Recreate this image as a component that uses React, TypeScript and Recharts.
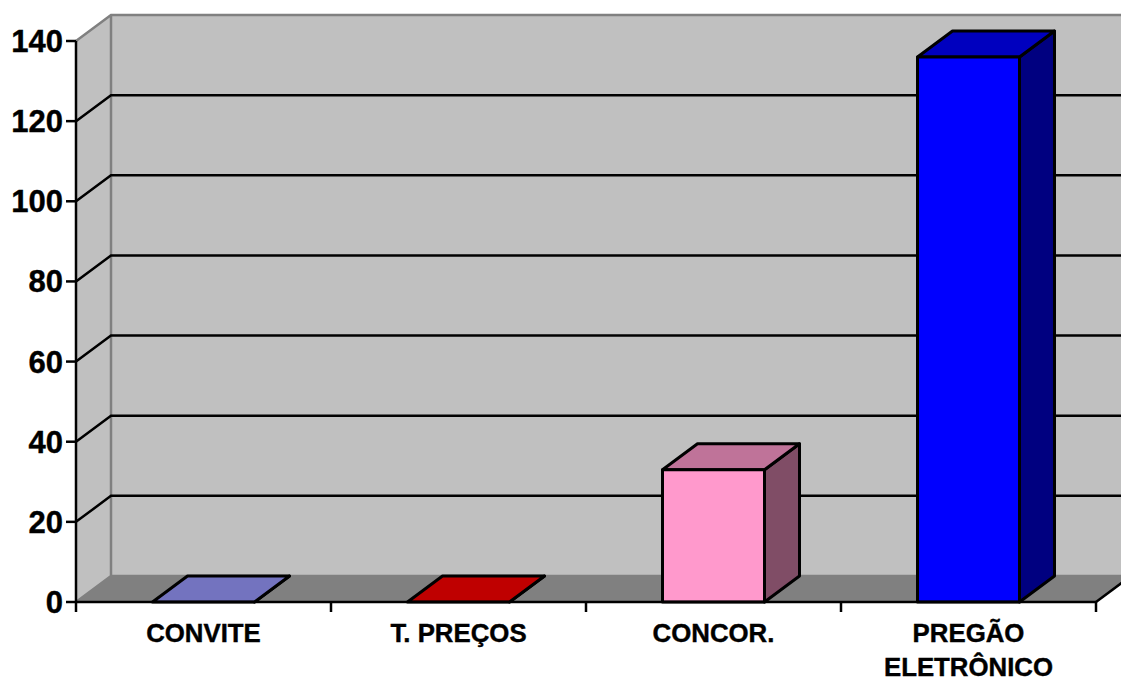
import React from 'react';
import { BarChart, Bar, XAxis, YAxis, CartesianGrid } from 'recharts';

const categories = ['CONVITE', 'T. PREÇOS', 'CONCOR.', 'PREGÃO\nELETRÔNICO'];
const values = [0, 0, 33, 136];
const faceColors = ['#9999FF', '#FF0000', '#FF99CC', '#0000FF'];
const topColors = ['#7373BF', '#BF0000', '#BF7399', '#0000BF'];
const sideColors = ['#4D4D80', '#800000', '#804D66', '#000080'];
const yTicks = [0, 20, 40, 60, 80, 100, 120, 140];

const data = categories.map((name, i) => ({ name, value: values[i] }));

const DX = 35;
const DY = -26;
const FONT = '"Liberation Sans", Arial, sans-serif';

function Walls(props: any) {
  const { x, y, width, height, index } = props;
  if (index !== 0) return <g key="w" />;
  const l = x, r = x + width, t = y, b = y + height;
  return (
    <g key="walls">
      <polygon points={`${l + DX},${t + DY} ${r + DX},${t + DY} ${r + DX},${b + DY} ${l + DX},${b + DY}`} fill="#C0C0C0" />
      <polygon points={`${l},${t} ${l + DX},${t + DY} ${l + DX},${b + DY} ${l},${b}`} fill="#C0C0C0" />
      <polygon points={`${l},${b} ${l + DX},${b + DY} ${r + DX},${b + DY} ${r},${b}`} fill="#808080" />
      <path d={`M${l},${t} L${l + DX},${t + DY} L${r + DX},${t + DY} M${l + DX},${t + DY} L${l + DX},${b + DY} L${r + DX},${b + DY} M${l},${b} L${l + DX},${b + DY}`} fill="none" stroke="#808080" strokeWidth={2.5} />
      <path d={`M${r},${b} L${r + DX},${b + DY}`} fill="none" stroke="#000" strokeWidth={2.5} />
    </g>
  );
}

function GridLine(props: any) {
  const { x1, y1, x2, y2, y, height, index } = props;
  if (Math.abs(y1 - y) < 1 || Math.abs(y1 - (y + height)) < 1) return <g key={`g${index}`} />;
  return (
    <path key={`g${index}`} d={`M${x1},${y1} L${x1 + DX},${y1 + DY} L${x2 + DX},${y2 + DY}`} fill="none" stroke="#000" strokeWidth={2.5} />
  );
}

function Box(props: any) {
  const { x, y, width, height, index } = props;
  const r = x + width, b = y + height;
  return (
    <g strokeLinejoin="round" stroke="#000" strokeWidth={3}>
      <polygon points={`${r},${y} ${r + DX},${y + DY} ${r + DX},${b + DY} ${r},${b}`} fill={sideColors[index]} />
      <polygon points={`${x},${y} ${x + DX},${y + DY} ${r + DX},${y + DY} ${r},${y}`} fill={topColors[index]} />
      <rect x={x} y={y} width={width} height={height} fill={faceColors[index]} />
    </g>
  );
}

function CategoryTick(props: any) {
  const { x, y, payload, width, visibleTicksCount, index } = props;
  const band = width / visibleTicksCount;
  const lines = String(payload.value).split('\n');
  return (
    <g>
      <path d={`M${x - band / 2},${y} V${y + 10}`} stroke="#000" strokeWidth={2.5} />
      {index === visibleTicksCount - 1 && <path d={`M${x + band / 2},${y} V${y + 10}`} stroke="#000" strokeWidth={2.5} />}
      {lines.map((line, i) => (
        <text key={line} x={x} y={y + 40 + i * 33.5} textAnchor="middle" fontFamily={FONT} fontWeight={700} fontSize={25.8} fill="#000" stroke="#000" strokeWidth={0.4}>
          {line}
        </text>
      ))}
    </g>
  );
}

export default function App() {
  return (
    <div style={{ position: 'absolute', left: 0, top: 0, width: 1121, height: 682, overflow: 'hidden' }}>
      <BarChart
        width={1121}
        height={682}
        data={data}
        margin={{ top: 41, right: 25, bottom: 0, left: 0 }}
        barCategoryGap="30%"
      >
        <CartesianGrid horizontal={Walls as any} vertical={false} />
        <CartesianGrid horizontal={GridLine as any} vertical={false} />
        <XAxis
          dataKey="name"
          height={80}
          interval={0}
          axisLine={{ stroke: '#000', strokeWidth: 2.5 }}
          tickLine={false}
          tickSize={0}
          tickMargin={0}
          tick={CategoryTick as any}
        />
        <YAxis
          width={76}
          domain={[0, 140]}
          ticks={yTicks}
          interval={0}
          axisLine={{ stroke: '#000', strokeWidth: 2.5 }}
          tickLine={{ stroke: '#000', strokeWidth: 2.5 }}
          tickSize={10}
          tickMargin={3}
          tick={{ fontFamily: FONT, fontWeight: 700, fontSize: 31, fill: '#000', stroke: '#000', strokeWidth: 0.4 }}
        />
        <Bar dataKey="value" shape={Box as any} isAnimationActive={false} />
      </BarChart>
    </div>
  );
}
